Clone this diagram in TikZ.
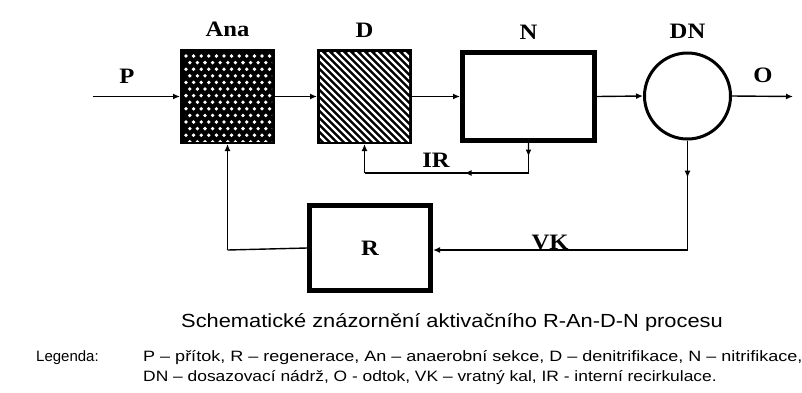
\documentclass[tikz,border=0pt]{standalone}
\usepackage{fontspec}
\setmainfont{Liberation Serif}
\newfontfamily\capsans{Liberation Sans}
\usetikzlibrary{arrows.meta,calc}
\begin{document}
\begin{tikzpicture}[x=1pt,y=-1pt,
  conn/.style={line width=1.4pt},
  tip/.style={-{Latex[length=7pt,width=6pt]}},
  lab/.style={font=\fontsize{22}{24}\bfseries\selectfont, inner sep=0pt, xscale=1.12},
  thickbox/.style={draw, line width=5pt, inner sep=0pt},
  blackbox/.style={draw, line width=5pt, fill=black, inner sep=0pt, minimum width=90pt, minimum height=90pt},
  captxt/.style={font=\capsans\fontsize{19}{21}\selectfont, inner sep=0pt, xscale=1.15},
  legtxt/.style={font=\capsans\fontsize{15}{17}\selectfont, inner sep=0pt, anchor=west}
]
\useasboundingbox (0,0) rectangle (802,392);
% boxes
\node[blackbox] (ana) at (227.5,96.5) {};
\node[blackbox] (d) at (364.5,96.5) {};
\node[thickbox, minimum width=132pt, minimum height=88pt] (n) at (528.5,96.5) {};
\node[draw, circle, line width=3pt, minimum size=86pt, inner sep=0pt] (dn) at (687.5,96) {};
\node[thickbox, minimum width=121pt, minimum height=85pt] (r) at (370,248) {};
\node[lab] (lr) at (r.center) {R};
% Ana pattern: white dots
\begin{scope}
\clip (183,52) rectangle (272,141);
\foreach \i in {0,...,12} {
  \foreach \j in {0,...,13} {
    \pgfmathsetmacro{\xx}{186+7.6*\i+3.8*mod(\j,2)}
    \pgfmathsetmacro{\yy}{56+6.6*\j}
    \fill[white] (\xx,\yy) circle (1.9pt);
  }
}
\end{scope}
% D pattern: white diagonal stripes
\begin{scope}
\clip (320,52) rectangle (409,141);
\foreach \k in {-98,-91,...,98} {
  \draw[white, line width=2.4pt] (320+\k,52) -- ++(100,100);
}
\end{scope}
% labels
\node[lab] (lp) at (127,76) {P};
\node[lab] (lana) at (227.5,29) {Ana};
\node[lab] (ld) at (364.5,30) {D};
\node[lab] (ln) at (528.5,32) {N};
\node[lab] (ldn) at (687.5,31) {DN};
\node[lab] (lo) at (763,75) {O};
\node[lab] (lir) at (436,160) {IR};
\node[lab] (lvk) at (550,242) {VK};
% coordinates
\coordinate (pin) at (93,96.5);
\coordinate (oout) at (793,96.5);
\coordinate (ir1) at (528.5,173);
\coordinate (ir2) at (364.5,173);
\coordinate (vk1) at (687.5,250);
\coordinate (rl) at (227.5,250);
% main line
\draw[conn,tip] (pin) -- (ana.west);
\draw[conn,tip] (ana.east) -- (d.west);
\draw[conn,tip] (d.east) -- (n.west);
\draw[conn,tip] (n.east) -- (dn.west);
\draw[conn,tip] (dn.east) -- (oout);
% IR loop
\draw[conn] (n.south) -- (ir1) -- (ir2);
\draw[conn,tip] (ir2) -- (d.south);
\draw[conn,tip] (n.south) -- ($(n.south)!0.45!(ir1)$);
\draw[conn,tip] (ir1) -- ($(ir1)!0.39!(ir2)$);
% return sludge loop
\draw[conn] (dn.south) -- (vk1);
\draw[conn,tip] (dn.south) -- ($(dn.south)!0.34!(vk1)$);
\draw[conn,tip] (vk1) -- (vk1 -| r.east);
\draw[conn] (r.west) -- (rl);
\draw[conn,tip] (rl) -- (ana.south);
% caption and legend
\node[captxt] (cap) at (452,322) {Schematické znázornění aktivačního R-An-D-N procesu};
\node[legtxt] (leg) at (36,358) {Legenda:};
\node[legtxt, xscale=1.2] (leg1) at (143,358) {P – přítok, R – regenerace, An – anaerobní sekce, D – denitrifikace, N – nitrifikace,};
\node[legtxt, xscale=1.16] (leg2) at (143,378) {DN – dosazovací nádrž, O - odtok, VK – vratný kal, IR - interní recirkulace.};
\end{tikzpicture}
\end{document}
